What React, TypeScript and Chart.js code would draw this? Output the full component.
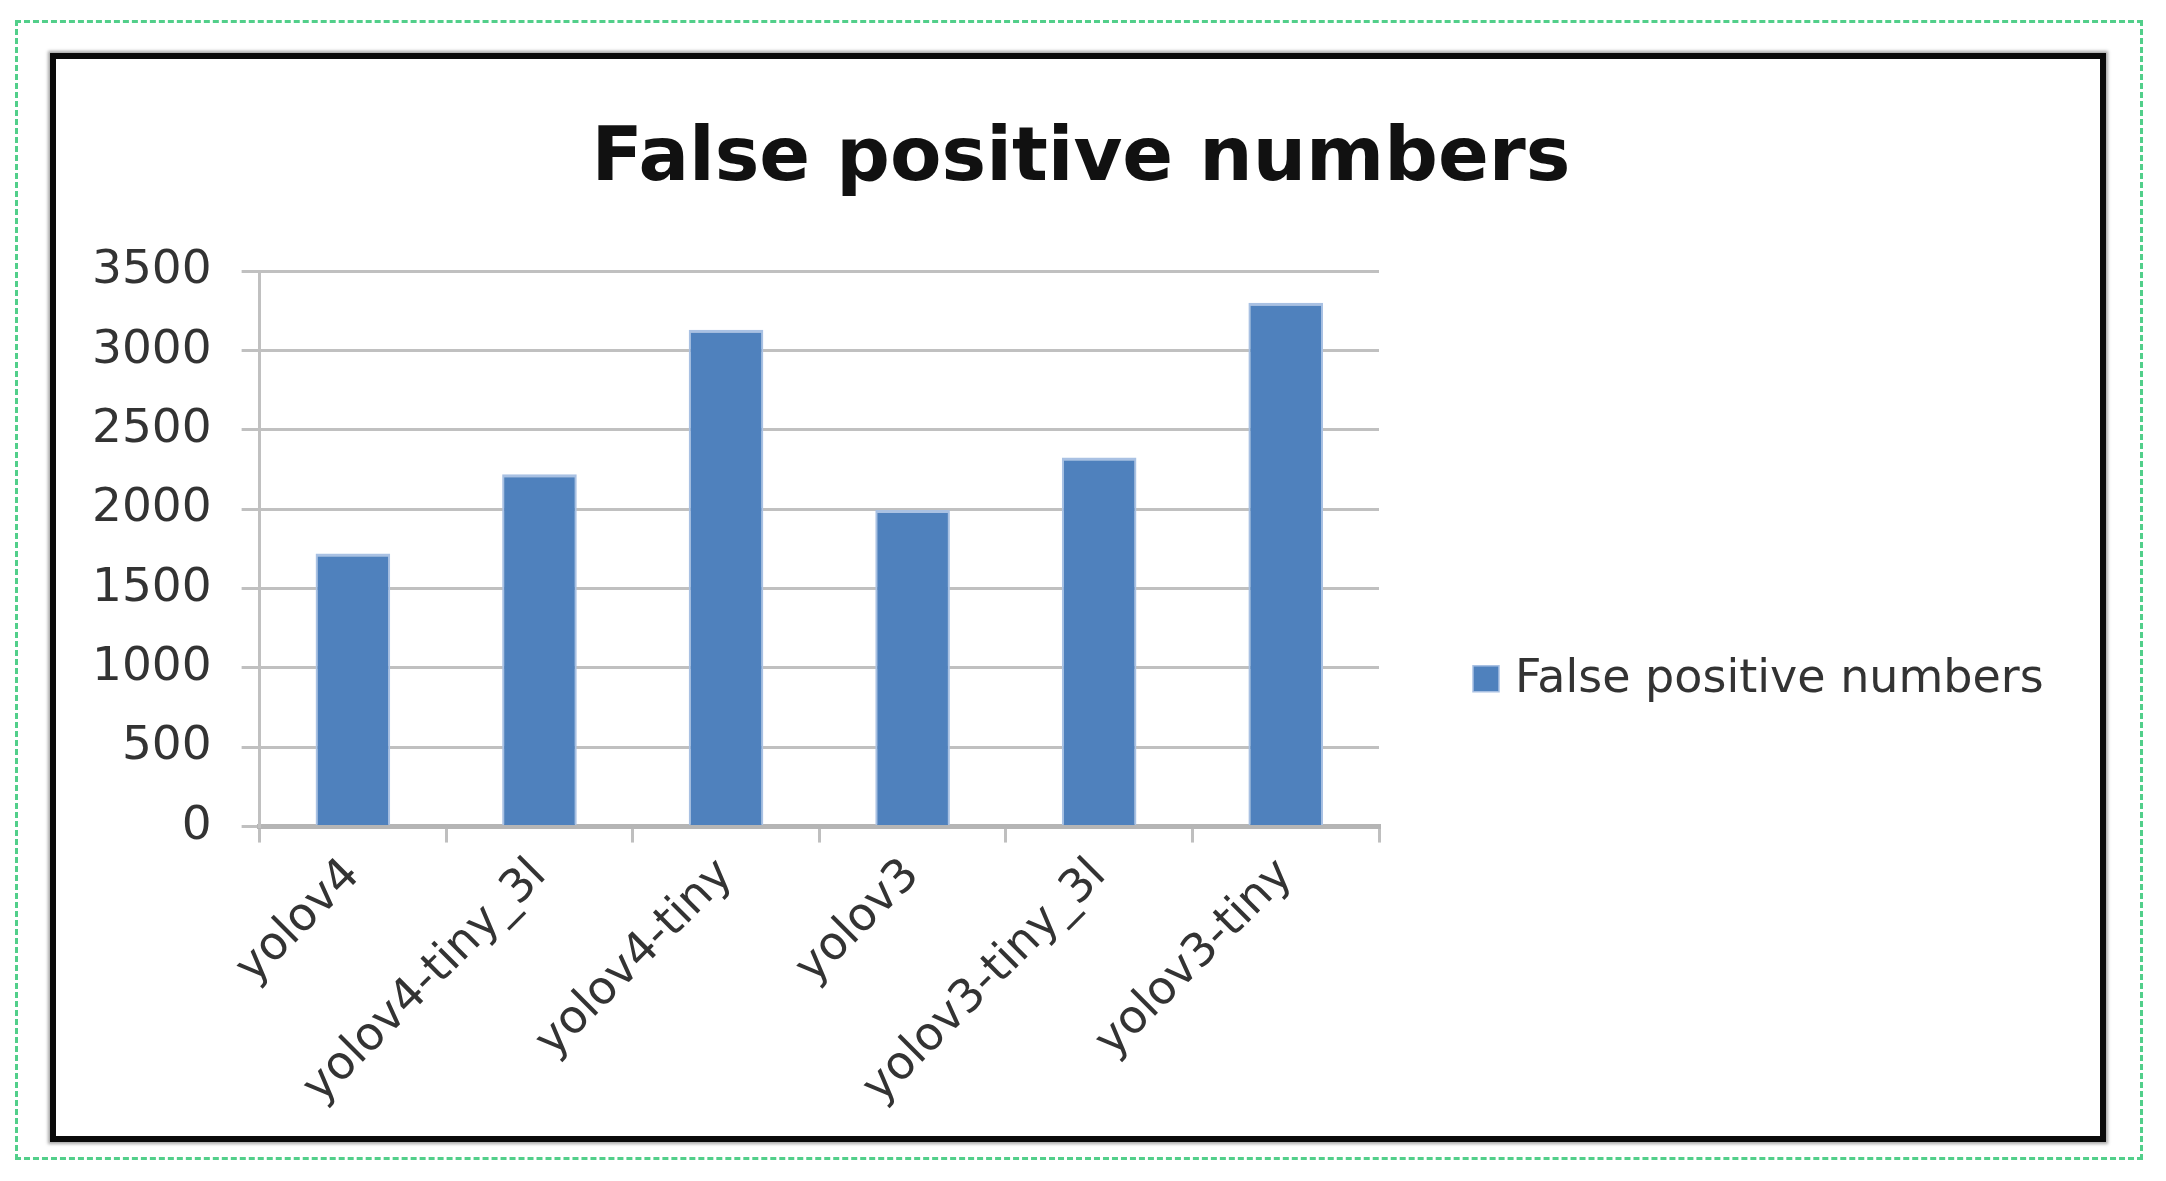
import React, { useEffect, useRef } from "react";
import { Chart, registerables } from "chart.js";

Chart.register(...registerables);

const categories = ["yolov4", "yolov4-tiny_3l", "yolov4-tiny", "yolov3", "yolov3-tiny_3l", "yolov3-tiny"];
const falsePositives = [1720, 2220, 3130, 1995, 2325, 3300];
const seriesName = "False positive numbers";
const chartTitle = "False positive numbers";
const yMin = 0;
const yMax = 3500;
const yStep = 500;

const barColor = "#4f81bd";
const barEdge = "#a9c1e3";

// Draws the right-hand legend in the space reserved by an empty right-side axis.
const sideLegend = {
  id: "sideLegend",
  afterDraw(chart: any) {
    const { ctx, chartArea } = chart;
    const items = chart.data.datasets;
    const box = 26;
    const x0 = chartArea.right + 94;
    const yc = (chartArea.top + chartArea.bottom) / 2 + 130;
    ctx.save();
    items.forEach((ds: any, i: number) => {
      const y = yc + i * 60;
      ctx.fillStyle = ds.backgroundColor;
      ctx.fillRect(x0, y - box / 2, box, box);
      ctx.strokeStyle = barEdge;
      ctx.lineWidth = 1.5;
      ctx.strokeRect(x0, y - box / 2, box, box);
      ctx.fillStyle = "#333333";
      ctx.font = "46px 'DejaVu Sans'";
      ctx.textAlign = "left";
      ctx.textBaseline = "middle";
      ctx.fillText(ds.label, x0 + box + 16, y + 1);
    });
    ctx.restore();
  },
};

export default function App() {
  const canvasRef = useRef<HTMLCanvasElement | null>(null);

  useEffect(() => {
    const canvas = canvasRef.current;
    if (!canvas) return;
    const chart = new Chart(canvas, {
      type: "bar",
      data: {
        labels: categories,
        datasets: [
          {
            label: seriesName,
            data: falsePositives,
            backgroundColor: barColor,
            borderColor: barEdge,
            borderWidth: { left: 2, right: 2, top: 3, bottom: 0 },
            barPercentage: 0.4,
            categoryPercentage: 1.0,
          },
        ],
      },
      plugins: [sideLegend],
      options: {
        responsive: false,
        animation: false,
        layout: { padding: { left: 0, right: 0, top: 0, bottom: 14 } },
        plugins: {
          title: {
            display: true,
            text: chartTitle,
            color: "#111111",
            font: { family: "DejaVu Sans", size: 75, weight: "bold" },
            padding: { top: 54, bottom: 65 },
          },
          legend: { display: false },
          tooltip: { enabled: false },
        },
        scales: {
          x: {
            grid: {
              display: true,
              offset: true,
              drawOnChartArea: false,
              drawTicks: true,
              tickLength: 16,
              color: "#bfbfbf",
              lineWidth: 3,
            },
            border: { display: true, color: "#b5b5b5", width: 5 },
            ticks: {
              color: "#333333",
              font: { family: "DejaVu Sans", size: 46 },
              maxRotation: 45,
              minRotation: 45,
              padding: 6,
              autoSkip: false,
            },
          },
          y: {
            min: yMin,
            max: yMax,
            grid: {
              color: "#c0c0c0",
              lineWidth: 3,
              drawTicks: true,
              tickLength: 18,
            },
            border: { display: true, color: "#c0c0c0", width: 3 },
            ticks: {
              stepSize: yStep,
              color: "#333333",
              font: { family: "DejaVu Sans", size: 47 },
              padding: 30,
              callback: (v: any) => String(v),
            },
          },
          legendSpace: {
            type: "linear",
            position: "right",
            display: true,
            min: yMin,
            max: yMax,
            grid: { display: false, drawTicks: false },
            border: { display: false },
            ticks: { display: false },
            afterFit: (scale: any) => {
              scale.width = 721;
            },
          },
        },
      },
    });
    return () => chart.destroy();
  }, []);

  return (
    <div style={{ position: "absolute", left: 0, top: 0, width: 2166, height: 1181, background: "#ffffff" }}>
      <div
        style={{
          position: "absolute",
          left: 15,
          top: 20,
          width: 2122,
          height: 1134,
          border: "3px dashed #52cf8a",
        }}
      />
      <div
        style={{
          position: "absolute",
          left: 50,
          top: 53,
          width: 2044,
          height: 1077,
          border: "6px solid #0a0a0a",
          boxShadow: "0 0 3px 2px rgba(0,0,0,0.35)",
          background: "#ffffff",
        }}
      />
      <canvas
        ref={canvasRef}
        width={2038}
        height={1073}
        style={{ position: "absolute", left: 62, top: 62, width: 2038, height: 1073 }}
      />
    </div>
  );
}
